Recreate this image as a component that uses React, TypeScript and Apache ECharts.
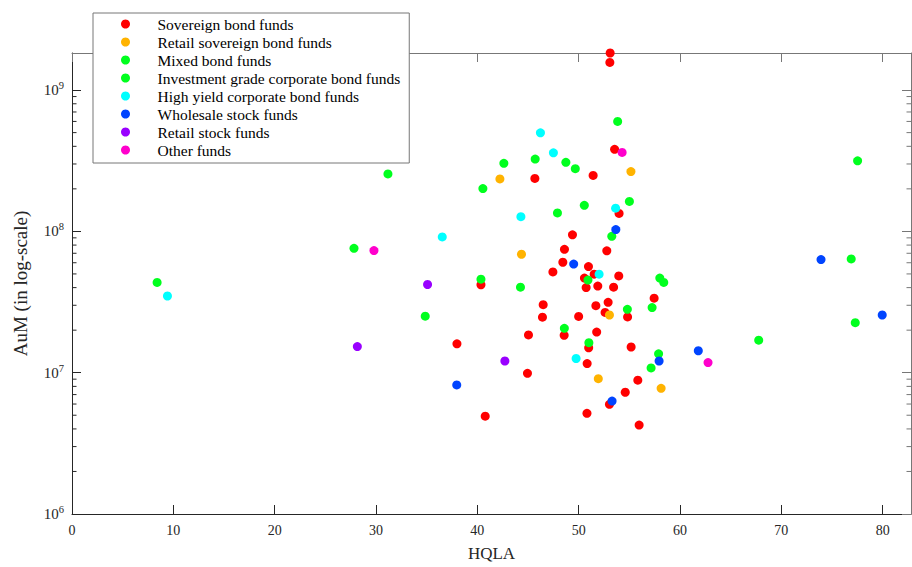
import React, { useEffect, useRef } from "react";
import * as echarts from "echarts";

// ---- data (HQLA, AuM) ----
const sovereignBond: [number, number][] = [
  [53.11, 1.83e9], [53.08, 1.57e9], [53.55, 3.81e8], [51.43, 2.49e8], [45.68, 2.37e8],
  [53.99, 1.34e8], [49.39, 9.45e7], [48.6, 7.47e7], [52.78, 7.29e7], [48.44, 6.05e7],
  [50.97, 5.64e7], [47.46, 5.17e7], [51.53, 4.98e7], [53.96, 4.84e7], [50.57, 4.67e7],
  [40.36, 4.19e7], [50.74, 4.0e7], [51.89, 4.1e7], [53.45, 4.03e7], [57.45, 3.37e7],
  [46.5, 3.03e7], [51.7, 2.98e7], [52.91, 3.15e7], [52.61, 2.67e7], [46.43, 2.47e7],
  [50.0, 2.5e7], [54.83, 2.48e7], [45.05, 1.85e7], [48.57, 1.84e7], [51.78, 1.94e7],
  [37.99, 1.6e7], [50.99, 1.5e7], [55.18, 1.52e7], [44.95, 9.89e6], [50.84, 1.16e7],
  [55.84, 8.85e6], [54.6, 7.27e6], [53.04, 5.97e6], [50.82, 5.16e6], [40.78, 4.92e6],
  [55.97, 4.26e6],
];
const retailSovereignBond: [number, number][] = [
  [42.23, 2.35e8], [55.16, 2.65e8], [44.36, 6.89e7], [53.04, 2.56e7], [51.94, 9.07e6], [58.14, 7.75e6],
];
const mixedBond: [number, number][] = [
  [53.85, 6.0e8], [45.71, 3.25e8], [48.74, 3.08e8], [42.62, 3.03e8], [49.67, 2.78e8],
  [40.55, 2.01e8], [55.01, 1.63e8], [50.56, 1.53e8], [47.91, 1.35e8], [53.27, 9.22e7],
  [50.92, 4.52e7], [44.26, 4.03e7], [48.59, 2.06e7], [51.01, 1.63e7],
];
const investmentGrade: [number, number][] = [
  [77.53, 3.16e8], [31.18, 2.55e8], [27.83, 7.59e7], [76.9, 6.38e7], [40.36, 4.59e7],
  [58.01, 4.67e7], [58.4, 4.35e7], [8.4, 4.35e7], [57.25, 2.89e7], [54.81, 2.81e7],
  [34.86, 2.51e7], [77.3, 2.26e7], [67.77, 1.7e7], [57.89, 1.36e7], [57.15, 1.08e7],
];
const highYield: [number, number][] = [
  [46.23, 4.98e8], [47.51, 3.6e8], [53.65, 1.46e8], [44.3, 1.27e8], [36.54, 9.14e7],
  [52.02, 4.98e7], [9.42, 3.49e7], [49.75, 1.26e7],
];
const wholesaleStock: [number, number][] = [
  [53.67, 1.03e8], [49.51, 5.87e7], [73.92, 6.32e7], [79.96, 2.56e7], [61.81, 1.43e7],
  [57.94, 1.21e7], [37.97, 8.19e6], [53.3, 6.3e6],
];
const retailStock: [number, number][] = [
  [35.09, 4.21e7], [28.16, 1.53e7], [42.72, 1.21e7],
];
const otherFunds: [number, number][] = [
  [54.29, 3.62e8], [29.8, 7.31e7], [62.77, 1.18e7],
];

const seriesNames = [
  "Sovereign bond funds",
  "Retail sovereign bond funds",
  "Mixed bond funds",
  "Investment grade corporate bond funds",
  "High yield corporate bond funds",
  "Wholesale stock funds",
  "Retail stock funds",
  "Other funds",
];
const seriesData = [
  sovereignBond, retailSovereignBond, mixedBond, investmentGrade,
  highYield, wholesaleStock, retailStock, otherFunds,
];
const seriesColors = [
  "#ff0000", "#ffb300", "#00ff1e", "#00ff1e", "#00ffff", "#0044ff", "#9900ff", "#ff00cc",
];

const X_MIN = 0;
const X_MAX = 82.8;
const Y_MIN = 1e6;
const Y_MAX = 1.83e9;
const FONT = '"Liberation Serif", "Times New Roman", serif';
const AXIS_COLOR = "#262626";

const minorTickValues: number[] = [];
for (let d = 6; d <= 8; d++) {
  for (let k = 2; k <= 9; k++) minorTickValues.push(k * Math.pow(10, d));
}

export default function App() {
  const ref = useRef<HTMLDivElement>(null);
  useEffect(() => {
    if (!ref.current) return;
    const chart = echarts.init(ref.current, undefined, { renderer: "svg" });
    const scatterSeries = seriesNames.map((name, i) => ({
      type: "scatter",
      name,
      data: seriesData[i],
      symbol: "circle",
      symbolSize: 9,
      itemStyle: { color: seriesColors[i], opacity: 1 },
      z: 3,
    }));
    const option: any = {
      animation: false,
      backgroundColor: "#ffffff",
      textStyle: { fontFamily: FONT },
      grid: { left: 72, right: 1, top: 53, bottom: 51, containLabel: false },
      legend: {
        data: seriesNames.map((n) => ({ name: n, icon: "circle" })),
        orient: "vertical",
        left: 93,
        top: 13,
        itemWidth: 54,
        itemHeight: 9,
        itemGap: 0,
        padding: [2, 9, 4, 28],
        backgroundColor: "#ffffff",
        borderColor: "#777777",
        borderWidth: 1,
        borderRadius: 0,
        selectedMode: false,
        textStyle: { fontFamily: FONT, fontSize: 15.5, color: "#000", lineHeight: 18 },
        z: 10,
      },
      xAxis: [
        {
          type: "value",
          min: X_MIN,
          max: X_MAX,
          interval: 10,
          position: "bottom",
          axisLine: { show: true, onZero: false, lineStyle: { color: AXIS_COLOR, width: 1 } },
          axisTick: { show: true, inside: true, length: 9, lineStyle: { color: AXIS_COLOR } },
          axisLabel: { show: true, margin: 9, fontSize: 14, color: AXIS_COLOR, fontFamily: FONT, showMaxLabel: false },
          splitLine: { show: false },
          name: "HQLA",
          nameLocation: "middle",
          nameGap: 31,
          nameTextStyle: { fontSize: 17, color: AXIS_COLOR, fontFamily: FONT },
        },
        {
          type: "value",
          min: X_MIN,
          max: X_MAX,
          interval: 10,
          position: "top",
          axisLine: { show: true, onZero: false, lineStyle: { color: "#777777", width: 1 } },
          axisTick: { show: true, inside: true, length: 9, lineStyle: { color: "#777777" } },
          axisLabel: { show: false },
          splitLine: { show: false },
        },
      ],
      yAxis: [
        {
          type: "log",
          logBase: 10,
          min: Y_MIN,
          max: Y_MAX,
          position: "left",
          axisLine: { show: true, onZero: false, lineStyle: { color: AXIS_COLOR, width: 1 } },
          axisTick: { show: true, inside: true, length: 9, lineStyle: { color: AXIS_COLOR } },
          axisLabel: {
            show: true,
            margin: 8,
            showMaxLabel: false,
            formatter: (v: number) => {
              const e = v > 30 ? Math.log10(v) : v;
              if (Math.abs(e - Math.round(e)) > 1e-6) return "";
              return `{b|10}{s|${Math.round(e)}}`;
            },
            rich: {
              b: { fontSize: 15, color: AXIS_COLOR, fontFamily: FONT },
              s: { fontSize: 10.5, color: AXIS_COLOR, fontFamily: FONT, padding: [0, 0, 9, 0] },
            },
          },
          splitLine: { show: false },
          name: "AuM (in log-scale)",
          nameLocation: "middle",
          nameGap: 42,
          nameTextStyle: { fontSize: 19, color: AXIS_COLOR, fontFamily: FONT },
        },
        {
          type: "log",
          logBase: 10,
          min: Y_MIN,
          max: Y_MAX,
          position: "right",
          axisLine: { show: true, onZero: false, lineStyle: { color: "#777777", width: 1 } },
          axisTick: { show: true, inside: true, length: 9, lineStyle: { color: "#777777" } },
          axisLabel: { show: false },
          splitLine: { show: false },
        },
      ],
      series: [
        {
          type: "custom",
          coordinateSystem: "cartesian2d",
          xAxisIndex: 0,
          yAxisIndex: 0,
          silent: true,
          clip: false,
          z: 1,
          data: minorTickValues.map((v) => [X_MIN, v]),
          encode: { x: 0, y: 1 },
          renderItem: (_params: any, api: any) => {
            const v = api.value(1);
            const l = api.coord([X_MIN, v]);
            const r = api.coord([X_MAX, v]);
            return {
              type: "group",
              children: [
                { type: "line", shape: { x1: l[0], y1: l[1], x2: l[0] + 4.5, y2: l[1] }, style: { stroke: AXIS_COLOR, lineWidth: 1 } },
                { type: "line", shape: { x1: r[0], y1: r[1], x2: r[0] - 4.5, y2: r[1] }, style: { stroke: "#777777", lineWidth: 1 } },
              ],
            };
          },
        },
        ...scatterSeries,
      ],
    };
    chart.setOption(option);
    return () => chart.dispose();
  }, []);
  return (
    <div
      ref={ref}
      style={{ position: "absolute", left: 0, top: 0, width: 912, height: 567, background: "#fff" }}
    />
  );
}
